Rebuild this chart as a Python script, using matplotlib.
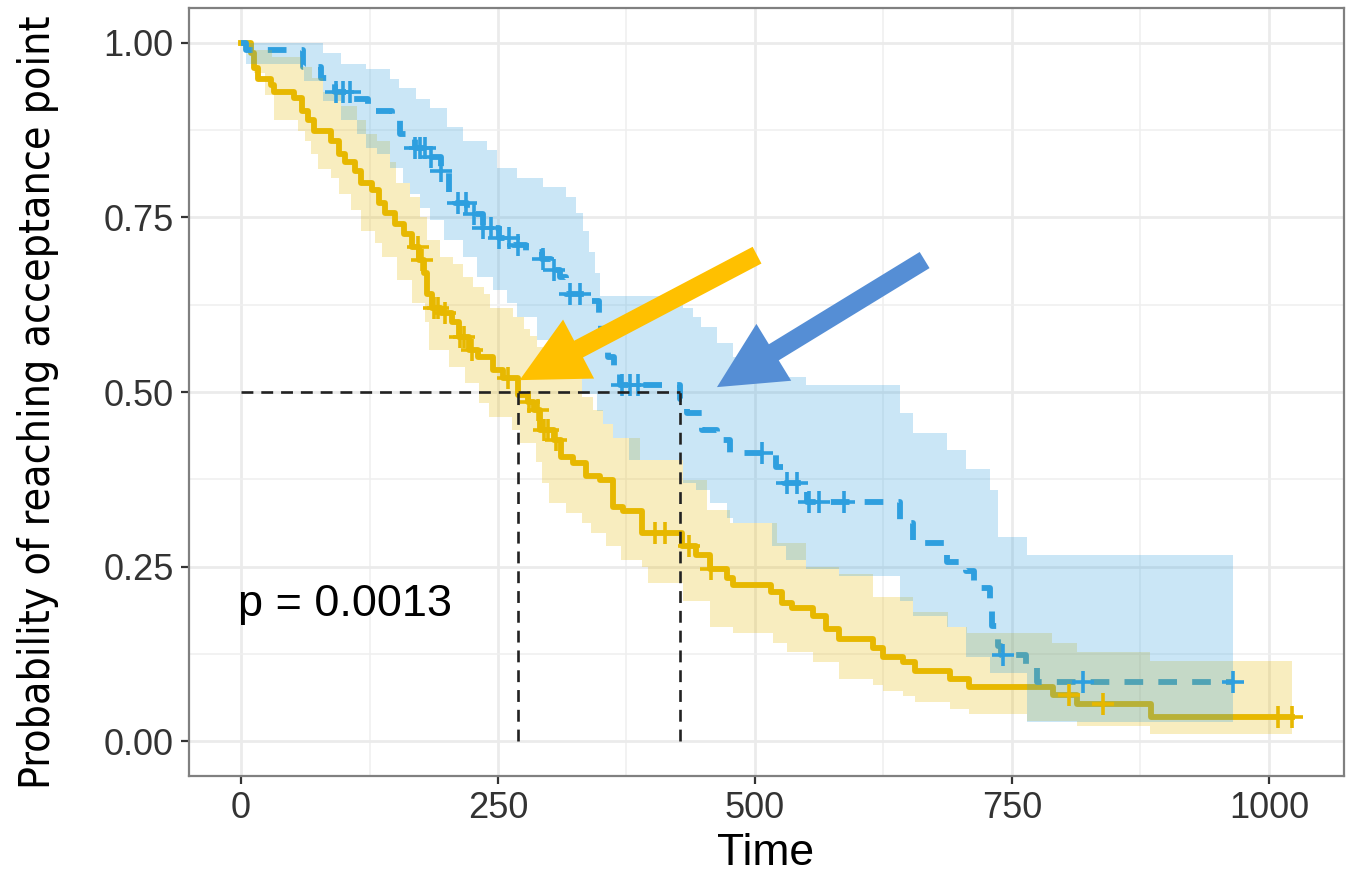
import numpy as np
import matplotlib.pyplot as plt
from matplotlib import font_manager

# group drawn in yellow (solid line)
yel_time = [0, 10, 13, 17, 29, 32, 52, 59, 65, 71, 88, 95, 101, 111, 117, 127, 134, 140, 150, 159,
            166, 173, 178, 181, 186, 195, 205, 212, 222, 231, 245, 255, 269, 279, 285, 291, 304, 311, 323, 336,
            349, 362, 372, 390, 429, 443, 456, 473, 479, 516, 526, 536, 556, 569, 582, 615, 625, 644, 656, 690,
            708, 790, 813, 885, 1022]
yel_surv = [1.0, 0.985, 0.964, 0.949, 0.939, 0.929, 0.921, 0.903, 0.889, 0.874, 0.86, 0.841, 0.829, 0.817, 0.799,
            0.789, 0.77, 0.756, 0.741, 0.727, 0.707, 0.689, 0.67, 0.641, 0.621, 0.613, 0.6, 0.579, 0.56, 0.55,
            0.531, 0.52, 0.495, 0.486, 0.474, 0.446, 0.431, 0.407, 0.398, 0.379, 0.374, 0.336, 0.33, 0.298, 0.279,
            0.267, 0.246, 0.234, 0.224, 0.213, 0.198, 0.191, 0.179, 0.16, 0.146, 0.134, 0.121, 0.113, 0.1, 0.089,
            0.077, 0.066, 0.053, 0.034, 0.034]
yel_cens = [172, 176, 188, 192, 198, 213, 217, 225, 260, 280, 289, 295, 299, 306, 403, 412, 436, 457,
            805, 839, 1009, 1022]
yel_up_time = [0, 13, 30, 58, 69, 80, 97, 113, 122, 132, 145, 151, 164, 174, 181, 194, 206, 216, 226, 236,
               242, 265, 275, 281, 288, 294, 301, 314, 332, 342, 352, 362, 388, 430, 453, 476, 521, 550, 582, 615,
               654, 688, 706, 789, 813, 884, 1022]
yel_up = [1.0, 0.99, 0.98, 0.965, 0.95, 0.93, 0.91, 0.89, 0.87, 0.86, 0.83, 0.80, 0.78, 0.75, 0.717, 0.693,
          0.684, 0.664, 0.65, 0.64, 0.621, 0.607, 0.59, 0.58, 0.564, 0.541, 0.527, 0.52, 0.493, 0.474, 0.454,
          0.434, 0.403, 0.374, 0.331, 0.313, 0.284, 0.25, 0.24, 0.207, 0.185, 0.164, 0.155, 0.141, 0.127, 0.114,
          0.114]
yel_lo_time = [0, 10, 13, 23, 32, 55, 62, 68, 75, 88, 95, 107, 117, 130, 137, 152, 166, 179, 183, 202,
               218, 232, 241, 264, 271, 287, 293, 300, 316, 332, 340, 355, 370, 390, 396, 430, 456, 479, 518, 531,
               556, 582, 615, 625, 644, 656, 690, 708, 765, 813, 884, 1022]
yel_lo = [1.0, 0.97, 0.957, 0.925, 0.889, 0.874, 0.86, 0.841, 0.82, 0.807, 0.784, 0.76, 0.731, 0.713, 0.693,
          0.66, 0.627, 0.6, 0.56, 0.536, 0.513, 0.484, 0.464, 0.446, 0.427, 0.40, 0.37, 0.341, 0.327, 0.313,
          0.298, 0.279, 0.26, 0.25, 0.227, 0.2, 0.164, 0.155, 0.14, 0.127, 0.113, 0.089, 0.08, 0.072, 0.065,
          0.056, 0.046, 0.039, 0.029, 0.021, 0.01, 0.01]

# group drawn in blue (dashed line)
blue_time = [0, 5, 60, 78, 91, 107, 124, 147, 155, 169, 180, 195, 202, 208, 220, 235, 251, 265, 277, 293,
             302, 310, 316, 341, 348, 350, 357, 363, 369, 427, 434, 448, 463, 476, 520, 528, 547, 551, 641, 654,
             687, 705, 713, 729, 731, 736, 739, 764, 774, 965]
blue_surv = [1.0, 0.99, 0.965, 0.95, 0.93, 0.92, 0.903, 0.893, 0.87, 0.85, 0.836, 0.817, 0.78, 0.77, 0.755,
             0.735, 0.72, 0.71, 0.70, 0.69, 0.675, 0.665, 0.641, 0.631, 0.607, 0.574, 0.55, 0.531, 0.51, 0.49,
             0.47, 0.446, 0.431, 0.413, 0.393, 0.37, 0.36, 0.343, 0.313, 0.284, 0.256, 0.243, 0.219, 0.2, 0.165,
             0.136, 0.124, 0.105, 0.084, 0.084]
blue_cens = [92, 99, 106, 169, 174, 179, 185, 195, 211, 219, 227, 235, 243, 251, 261, 269, 294, 304, 320, 330,
             371, 378, 386, 507, 531, 541, 553, 562, 587, 741, 819, 965]
blue_up_time = [0, 80, 97, 122, 145, 154, 170, 184, 200, 216, 239, 249, 268, 294, 316, 326, 333, 339, 344, 349,
                430, 440, 447, 463, 479, 511, 524, 550, 641, 654, 687, 705, 729, 736, 765, 965]
blue_up = [1.0, 0.986, 0.97, 0.963, 0.949, 0.936, 0.92, 0.907, 0.879, 0.86, 0.846, 0.821, 0.807, 0.793, 0.779,
           0.756, 0.73, 0.70, 0.67, 0.637, 0.621, 0.607, 0.593, 0.57, 0.55, 0.536, 0.521, 0.51, 0.47, 0.441,
           0.417, 0.389, 0.36, 0.293, 0.267, 0.267]
blue_lo_time = [0, 5, 61, 80, 97, 113, 122, 132, 145, 158, 164, 174, 184, 197, 216, 230, 245, 259, 268, 288,
                308, 332, 346, 352, 362, 377, 430, 443, 456, 473, 479, 517, 530, 550, 582, 641, 654, 687, 705, 729,
                765, 965]
blue_lo = [1.0, 0.97, 0.946, 0.917, 0.889, 0.87, 0.85, 0.841, 0.821, 0.80, 0.784, 0.764, 0.746, 0.717, 0.693,
           0.664, 0.646, 0.627, 0.607, 0.574, 0.531, 0.497, 0.473, 0.454, 0.434, 0.403, 0.37, 0.36, 0.341, 0.32,
           0.313, 0.28, 0.26, 0.246, 0.236, 0.2, 0.179, 0.164, 0.12, 0.098, 0.027, 0.027]

median_times = [269, 427]
p_text = "p = 0.0013"
x_ticks = [0, 250, 500, 750, 1000]
y_ticks = [0.0, 0.25, 0.5, 0.75, 1.0]

YEL = "#E7B800"
BLUE = "#2E9FDF"


def stepval(t, v, x):
    t = np.asarray(t)
    v = np.asarray(v)
    idx = np.searchsorted(t, x, side="right") - 1
    return v[np.clip(idx, 0, len(v) - 1)]


def band(ax, lo_t, lo, up_t, up, color, z):
    x = np.union1d(lo_t, up_t)
    ax.fill_between(x, stepval(lo_t, lo, x), stepval(up_t, up, x), step="post",
                    color=color, alpha=0.25, linewidth=0, zorder=z)


plt.rcParams["font.family"] = ["Liberation Sans", "DejaVu Sans"]
fig = plt.figure(figsize=(13.46, 8.8), dpi=100)
W, H = 1346, 880
ax = fig.add_axes([189 / W, 1 - 776 / H, (1344 - 189) / W, (776 - 8) / H])

# curves first, ribbons over them, censor marks on top
ax.step(yel_time, yel_surv, where="post", color=YEL, lw=4.2, zorder=2)
ax.step(blue_time, blue_surv, where="post", color=BLUE, lw=4.2, dashes=(3.2, 2.6), zorder=2)
band(ax, yel_lo_time, yel_lo, yel_up_time, yel_up, YEL, 3)
band(ax, blue_lo_time, blue_lo, blue_up_time, blue_up, BLUE, 4)
ax.plot(yel_cens, stepval(yel_time, yel_surv, yel_cens), ls="none", marker="+",
        ms=16, mew=2.6, color=YEL, zorder=5)
ax.plot(blue_cens, stepval(blue_time, blue_surv, blue_cens), ls="none", marker="+",
        ms=16, mew=2.6, color=BLUE, zorder=5)

# median lines
ax.plot([0, max(median_times)], [0.5, 0.5], color="#222222", lw=1.9, dashes=(4.5, 3), zorder=6)
for m in median_times:
    ax.plot([m, m], [0, 0.5], color="#222222", lw=1.9, dashes=(4.5, 3), zorder=6)

# arrows pointing at the medians
arrow_style = "simple,head_length=2.4,head_width=2.4,tail_width=0.68"
ax.annotate("", xy=(median_times[0] + 2, 0.517), xytext=(502, 0.696),
            arrowprops=dict(arrowstyle=arrow_style, color="#FFC000", lw=0, mutation_scale=20,
                            shrinkA=0, shrinkB=0), zorder=7)
ax.annotate("", xy=(median_times[1] + 36, 0.507), xytext=(665, 0.689),
            arrowprops=dict(arrowstyle=arrow_style, color="#558ED5", lw=0, mutation_scale=20,
                            shrinkA=0, shrinkB=0), zorder=7)

ax.text(-3, 0.195, p_text, fontsize=32.5, ha="left", va="center", color="black", zorder=8)

ax.set_xlim(-50.6, 1073)
ax.set_ylim(-0.05, 1.05)
ax.set_xticks(x_ticks)
ax.set_xticklabels([str(v) for v in x_ticks])
ax.set_yticks(y_ticks)
ax.set_yticklabels([f"{v:.2f}" for v in y_ticks])
ax.set_xticks([125, 375, 625, 875], minor=True)
ax.set_yticks([0.125, 0.375, 0.625, 0.875], minor=True)
ax.grid(which="major", color="#EBEBEB", lw=2.0, zorder=0)
ax.grid(which="minor", color="#EFEFEF", lw=1.1, zorder=0)
ax.set_axisbelow(True)
ax.tick_params(which="major", length=6, width=1.6, color="#333333", labelsize=26,
               labelcolor="#333333", pad=5)
ax.tick_params(which="minor", length=0)
for sp in ax.spines.values():
    sp.set_color("#808080")
    sp.set_linewidth(1.6)

fig.text(766 / W, 1 - 853 / H, "Time", fontsize=32, ha="center", va="center", color="black")

names = {f.name for f in font_manager.fontManager.ttflist}
if "Liberation Sans Narrow" in names:
    ylab = fig.text(38 / W, 1 - 402 / H, "Probability of reaching acceptance point", rotation=90,
                    ha="center", va="center", fontsize=32, family="Liberation Sans Narrow")
else:
    ylab = fig.text(38 / W, 1 - 402 / H, "Probability of reaching acceptance point", rotation=90,
                    ha="center", va="center", fontsize=32, family="DejaVu Sans", fontstretch="condensed")
fig.canvas.draw()
bb = ylab.get_window_extent()
ylab.set_fontsize(32 * 775 / bb.height)

fig.savefig("out.png", dpi=100)
